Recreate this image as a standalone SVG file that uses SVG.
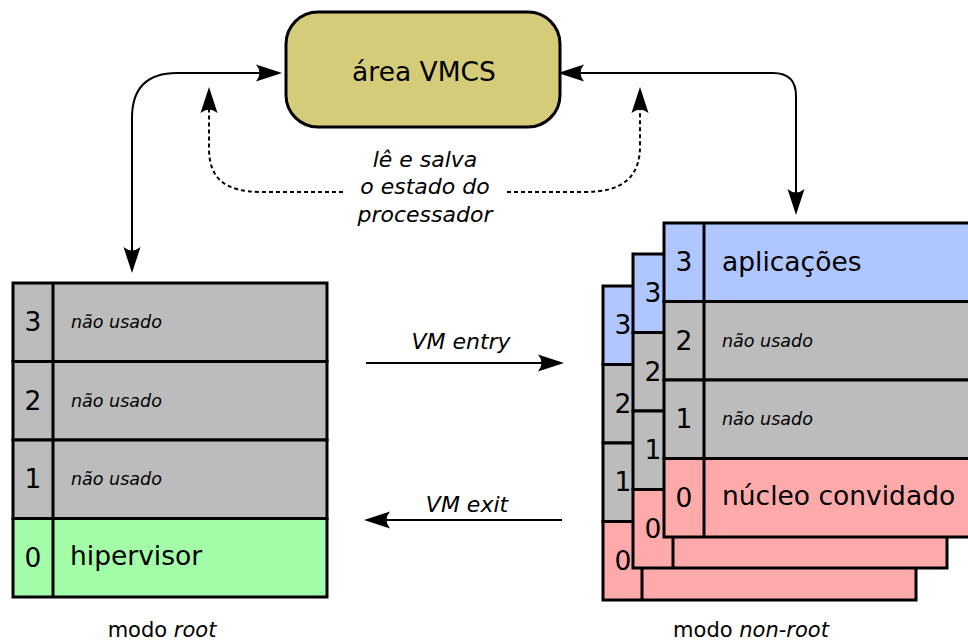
<svg xmlns="http://www.w3.org/2000/svg" width="968" height="641" viewBox="0 0 968 641">
<style>
text{font-family:"DejaVu Sans","Liberation Sans",sans-serif;fill:#000}
.big{font-size:26.5px}
.num{font-size:26.5px;text-anchor:middle}
.small{font-size:17.5px;font-style:italic}
.lab{font-size:22px;font-style:italic;text-anchor:middle}
.cell{stroke:#000;stroke-width:3}
.gray{fill:#bcbcbc}
.green{fill:#a2fca8}
.pink{fill:#ffaaaa}
.blue{fill:#afc6ff}
.con{fill:none;stroke:#000;stroke-width:2}
.dash{stroke-dasharray:4,3}
</style>
<defs>
<marker id="ah" viewBox="-23 -10 30 20" refX="0" refY="0" markerWidth="30" markerHeight="20" markerUnits="userSpaceOnUse" orient="auto-start-reverse">
<path d="M5,0 L-21,-8.5 Q-14,0 -21,8.5 Z" fill="#000"/>
</marker>
</defs>

<g id="vmcs">
<rect x="286" y="12" width="274" height="115" rx="32" fill="#d5cc7a" stroke="#000" stroke-width="3"/>
<text class="big" x="424" y="81" text-anchor="middle">área VMCS</text>
</g>

<g id="connectors">
<path class="con" d="M132,268 V118 Q132,73 177,73 H277" marker-start="url(#ah)" marker-end="url(#ah)"/>
<path class="con" d="M563,73 H773 Q796,73 796,96 V210" marker-start="url(#ah)" marker-end="url(#ah)"/>
<path class="con dash" d="M343,192 H262 C224,192 209,178 209,148 V92" marker-end="url(#ah)"/>
<path class="con dash" d="M507,192 H585 C624,192 640,176 640,146 V92" marker-end="url(#ah)"/>
<path class="con" d="M366,363 H559" marker-end="url(#ah)"/>
<path class="con" d="M562,520 H369" marker-end="url(#ah)"/>
</g>

<g id="labels">
<text class="lab" x="425" y="167">lê e salva</text>
<text class="lab" x="425" y="194">o estado do</text>
<text class="lab" x="425" y="222">processador</text>
<text class="lab" x="461" y="349">VM entry</text>
<text class="lab" x="467" y="512">VM exit</text>
<text x="162" y="637" font-size="21" text-anchor="middle">modo <tspan font-style="italic">root</tspan></text>
<text x="751" y="637" font-size="21" text-anchor="middle">modo <tspan font-style="italic">non-root</tspan></text>
</g>

<g id="root-stack">
<rect class="cell gray" x="13" y="283" width="314" height="78.5"/>
<rect class="cell gray" x="13" y="361.5" width="314" height="78.5"/>
<rect class="cell gray" x="13" y="440" width="314" height="78.5"/>
<rect class="cell green" x="13" y="518.5" width="314" height="78.5"/>
<line class="cell" x1="53" y1="283" x2="53" y2="597"/>
<text class="num" x="33" y="331">3</text>
<text class="num" x="33" y="410">2</text>
<text class="num" x="33" y="488">1</text>
<text class="num" x="33" y="567">0</text>
<text class="small" x="71" y="328">não usado</text>
<text class="small" x="71" y="407">não usado</text>
<text class="small" x="71" y="485">não usado</text>
<text class="big" x="70" y="565">hipervisor</text>
</g>

<g id="guest-stack-3" transform="translate(603,286)">
<rect class="cell blue" x="0" y="0" width="313" height="78.5"/>
<rect class="cell gray" x="0" y="78.5" width="313" height="78.5"/>
<rect class="cell gray" x="0" y="157" width="313" height="78.5"/>
<rect class="cell pink" x="0" y="235.5" width="313" height="78.5"/>
<line class="cell" x1="39" y1="0" x2="39" y2="314"/>
<text class="num" x="20" y="48">3</text>
<text class="num" x="20" y="127">2</text>
<text class="num" x="20" y="205">1</text>
<text class="num" x="20" y="284">0</text>
</g>

<g id="guest-stack-2" transform="translate(633,254)">
<rect class="cell blue" x="0" y="0" width="314" height="78.5"/>
<rect class="cell gray" x="0" y="78.5" width="314" height="78.5"/>
<rect class="cell gray" x="0" y="157" width="314" height="78.5"/>
<rect class="cell pink" x="0" y="235.5" width="314" height="78.5"/>
<line class="cell" x1="40" y1="0" x2="40" y2="314"/>
<text class="num" x="20" y="48">3</text>
<text class="num" x="20" y="127">2</text>
<text class="num" x="20" y="205">1</text>
<text class="num" x="20" y="284">0</text>
</g>

<g id="guest-stack-1" transform="translate(664,223)">
<rect class="cell blue" x="0" y="0" width="314" height="78.5"/>
<rect class="cell gray" x="0" y="78.5" width="314" height="78.5"/>
<rect class="cell gray" x="0" y="157" width="314" height="78.5"/>
<rect class="cell pink" x="0" y="235.5" width="314" height="78.5"/>
<line class="cell" x1="40" y1="0" x2="40" y2="314"/>
<text class="num" x="20" y="48">3</text>
<text class="num" x="20" y="127">2</text>
<text class="num" x="20" y="205">1</text>
<text class="num" x="20" y="284">0</text>
<text class="big" x="58" y="48">aplicações</text>
<text class="small" x="58" y="124">não usado</text>
<text class="small" x="58" y="202">não usado</text>
<text class="big" x="58" y="282">núcleo convidado</text>
</g>
</svg>
